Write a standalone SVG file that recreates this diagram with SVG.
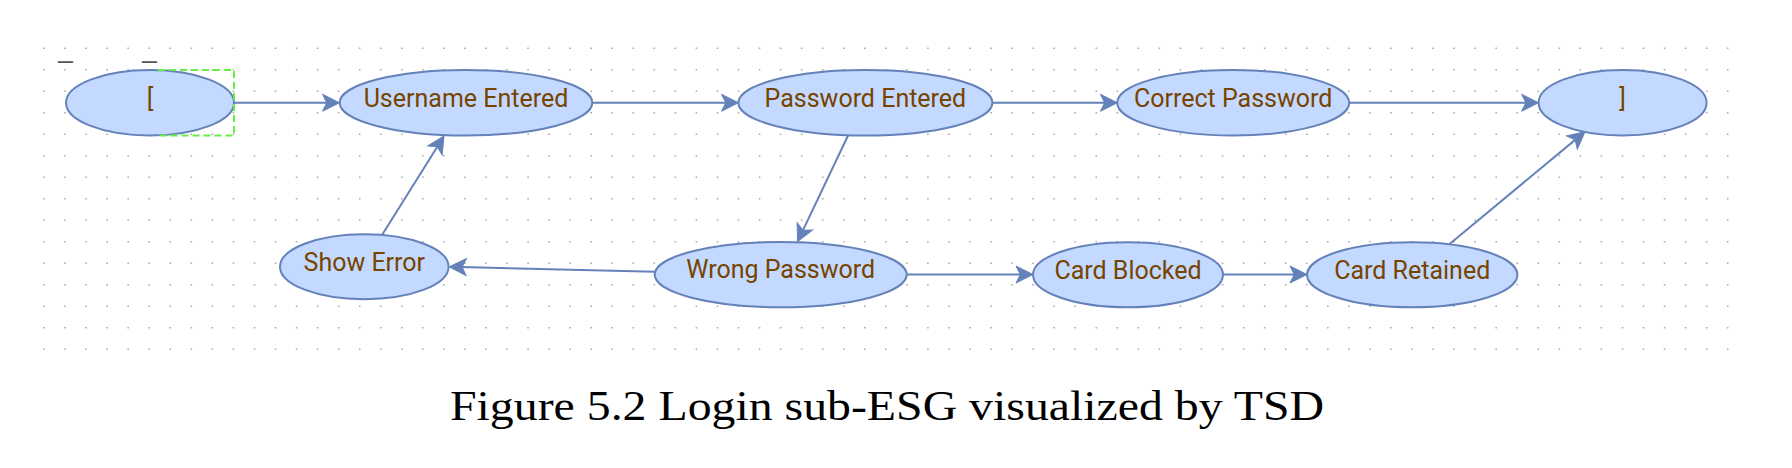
<svg xmlns="http://www.w3.org/2000/svg" width="1792" height="468" viewBox="0 0 1792 468">
  <style>
    .node ellipse { fill: #C3D9FF; stroke: #6482B9; stroke-width: 2; }
    .node text { font-family: Roboto, "Open Sans", sans-serif; font-size: 25px; fill: #774400; text-anchor: middle; }
    .edge { fill: none; stroke: #6482B9; stroke-width: 2; marker-end: url(#arrow); }
    .grid line { stroke: #ababab; stroke-width: 1.6; stroke-dasharray: 1.6 19.446; }
    .mark { font-family: "Liberation Sans", Arial, sans-serif; font-size: 26px; fill: #555555; }
    .caption { font-family: "Liberation Serif", "Times New Roman", serif; font-size: 41.5px; fill: #000000; }
  </style>
  <defs>
    <marker id="arrow" markerUnits="userSpaceOnUse" viewBox="-30 -10 40 20" refX="-12" refY="0" markerWidth="40" markerHeight="20" orient="auto">
      <path d="M0,0 L-17,-8.5 L-12.75,0 L-17,8.5 Z" fill="#6482B9" stroke="#6482B9" stroke-width="1" stroke-linejoin="miter"/>
    </marker>
  </defs>
  <rect x="0" y="0" width="1792" height="468" fill="#ffffff"/>
  <g class="grid">
    <line x1="43.2" y1="48.3" x2="1730" y2="48.3"/>
    <line x1="43.2" y1="69.8" x2="1730" y2="69.8"/>
    <line x1="43.2" y1="91.3" x2="1730" y2="91.3"/>
    <line x1="43.2" y1="112.8" x2="1730" y2="112.8"/>
    <line x1="43.2" y1="134.3" x2="1730" y2="134.3"/>
    <line x1="43.2" y1="155.8" x2="1730" y2="155.8"/>
    <line x1="43.2" y1="177.3" x2="1730" y2="177.3"/>
    <line x1="43.2" y1="198.8" x2="1730" y2="198.8"/>
    <line x1="43.2" y1="220.3" x2="1730" y2="220.3"/>
    <line x1="43.2" y1="241.8" x2="1730" y2="241.8"/>
    <line x1="43.2" y1="263.3" x2="1730" y2="263.3"/>
    <line x1="43.2" y1="284.8" x2="1730" y2="284.8"/>
    <line x1="43.2" y1="306.3" x2="1730" y2="306.3"/>
    <line x1="43.2" y1="327.8" x2="1730" y2="327.8"/>
    <line x1="43.2" y1="349.3" x2="1730" y2="349.3"/>
  </g>
  <text class="mark" x="58.3" y="58.4">_</text>
  <text class="mark" x="142.3" y="58.4">_</text>
  <g id="connectors">
    <line class="edge" x1="234" y1="102.75" x2="327.5" y2="102.75"/>
    <line class="edge" x1="592.4" y1="102.75" x2="726.5" y2="102.75"/>
    <line class="edge" x1="992.4" y1="102.75" x2="1105.4" y2="102.75"/>
    <line class="edge" x1="1349.2" y1="102.75" x2="1526.6" y2="102.75"/>
    <line class="edge" x1="848.3" y1="135" x2="802.66" y2="230.87"/>
    <line class="edge" x1="654.7" y1="271.7" x2="461.3" y2="266.99"/>
    <line class="edge" x1="382.5" y1="234.3" x2="437.64" y2="146.17"/>
    <line class="edge" x1="906.7" y1="274.5" x2="1021" y2="274.5"/>
    <line class="edge" x1="1223" y1="274.5" x2="1295" y2="274.5"/>
    <line class="edge" x1="1449" y1="244.4" x2="1575.76" y2="139.36"/>
  </g>
  <g id="node-start" class="node">
    <ellipse cx="150" cy="102.75" rx="84" ry="32.75"/>
    <text x="150" y="106.7">[</text>
  </g>
  <path d="M158,70 H234 V135.5 H158" fill="none" stroke="#66ee44" stroke-width="2" stroke-dasharray="7 4"/>
  <g id="node-username-entered" class="node">
    <ellipse cx="466" cy="102.75" rx="126.3" ry="32.75"/>
    <text x="466" y="106.7">Username Entered</text>
  </g>
  <g id="node-password-entered" class="node">
    <ellipse cx="865.4" cy="102.75" rx="127" ry="32.75"/>
    <text x="865.4" y="106.7">Password Entered</text>
  </g>
  <g id="node-correct-password" class="node">
    <ellipse cx="1233.2" cy="102.75" rx="116" ry="32.75"/>
    <text x="1233.2" y="106.7">Correct Password</text>
  </g>
  <g id="node-end" class="node">
    <ellipse cx="1622.6" cy="102.75" rx="84" ry="32.75"/>
    <text x="1622.6" y="106.7">]</text>
  </g>
  <g id="node-show-error" class="node">
    <ellipse cx="364.3" cy="266.7" rx="84.3" ry="32.5"/>
    <text x="364.3" y="270.6">Show Error</text>
  </g>
  <g id="node-wrong-password" class="node">
    <ellipse cx="780.7" cy="274.6" rx="126" ry="32.7"/>
    <text x="780.7" y="278.4">Wrong Password</text>
  </g>
  <g id="node-card-blocked" class="node">
    <ellipse cx="1128" cy="274.8" rx="95" ry="32.5"/>
    <text x="1128" y="278.6">Card Blocked</text>
  </g>
  <g id="node-card-retained" class="node">
    <ellipse cx="1412.2" cy="274.8" rx="105.2" ry="32.5"/>
    <text x="1412.2" y="278.6">Card Retained</text>
  </g>
  <text class="caption" x="450" y="420" textLength="874" lengthAdjust="spacingAndGlyphs">Figure 5.2 Login sub-ESG visualized by TSD</text>
</svg>
